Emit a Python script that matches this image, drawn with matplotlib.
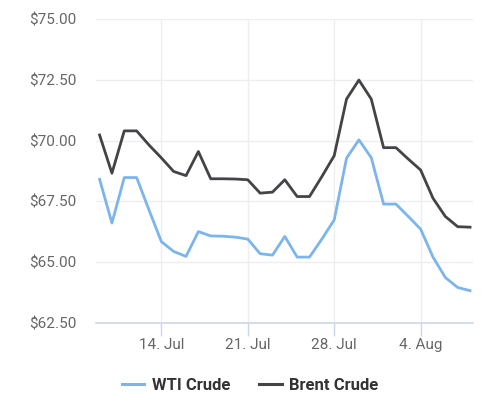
import matplotlib.pyplot as plt
import matplotlib.dates as mdates
import numpy as np
import pandas as pd

plt.rcParams['font.family'] = ['Roboto', 'DejaVu Sans']

dates = pd.date_range('2025-07-09', '2025-08-08', freq='D')

wti = [68.41, 66.61, 68.48, 68.48, 67.15, 65.85, 65.44, 65.24, 66.26, 66.08,
       66.07, 66.03, 65.95, 65.35, 65.29, 66.06, 65.21, 65.21, 65.95, 66.74,
       69.28, 70.03, 69.30, 67.39, 67.39, 66.88, 66.36, 65.21, 64.37, 63.96,
       63.83]
brent = [70.23, 68.66, 70.40, 70.40, 69.82, 69.29, 68.73, 68.56, 69.55, 68.43,
         68.43, 68.42, 68.39, 67.84, 67.88, 68.39, 67.70, 67.70, 68.52, 69.38,
         71.71, 72.49, 71.71, 69.71, 69.71, 69.24, 68.79, 67.63, 66.88, 66.46,
         66.44]

tick_dates = pd.to_datetime(['2025-07-14', '2025-07-21', '2025-07-28', '2025-08-04'])
tick_labels = ['14. Jul', '21. Jul', '28. Jul', '4. Aug']
y_ticks = [62.5, 65.0, 67.5, 70.0, 72.5, 75.0]

fig = plt.figure(figsize=(5.0, 4.07), dpi=100)
ax = fig.add_axes([96 / 500, (407 - 323) / 407, 377 / 500, 304 / 407])

ax.plot(dates, wti, color='#7cb5ec', linewidth=2.0, label='WTI Crude', zorder=3)
ax.plot(dates, brent, color='#434348', linewidth=2.0, label='Brent Crude', zorder=3)

x0 = mdates.date2num(pd.Timestamp('2025-07-14')) - 5.29
x1 = mdates.date2num(pd.Timestamp('2025-08-04')) + 4.24
ax.set_xlim(x0, x1)
ax.set_ylim(62.5, 75)

ax.set_yticks(y_ticks)
ax.set_yticklabels(['${:.2f}'.format(v) for v in y_ticks])
ax.set_xticks(tick_dates)
ax.set_xticklabels(tick_labels)

ax.grid(True, color='#eeeeee', linewidth=1)
ax.set_axisbelow(True)
for s in ['top', 'right', 'left']:
    ax.spines[s].set_visible(False)
ax.spines['bottom'].set_color('#ccd6eb')
ax.spines['bottom'].set_linewidth(1.2)

ax.tick_params(axis='y', length=0, pad=14, labelsize=11, labelcolor='#666666')
ax.tick_params(axis='x', length=9, width=1, color='#ccd6eb', pad=2,
               labelsize=11, labelcolor='#666666')

leg = fig.legend(loc='center', bbox_to_anchor=(0.5, (407 - 385) / 407), ncol=2,
                 frameon=False, handlelength=1.35, columnspacing=1.75,
                 handletextpad=0.45, prop={'weight': 'bold', 'size': 12})
for t in leg.get_texts():
    t.set_color('#333333')
for h in leg.legend_handles:
    h.set_linewidth(2.2)

fig.savefig('out.png', dpi=100)
